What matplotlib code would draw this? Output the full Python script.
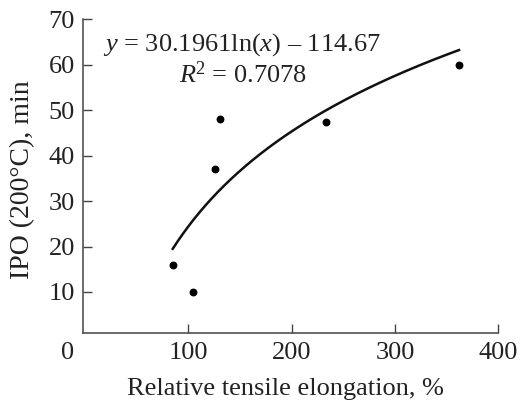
import numpy as np
import matplotlib
matplotlib.use("Agg")
import matplotlib.pyplot as plt
import matplotlib.transforms as mtransforms

plt.rcParams['font.family'] = ['Liberation Serif', 'DejaVu Serif']
plt.rcParams['mathtext.fontset'] = 'custom'
plt.rcParams['mathtext.rm'] = 'Liberation Serif'
plt.rcParams['mathtext.it'] = 'Liberation Serif:italic'

# Data
elongation = [85, 105, 126, 131, 233, 362]
ipo = [16, 10, 37, 48, 47.5, 60]
fit_a = 30.1961
fit_b = -114.67
r2 = 0.7078
xticks = [100, 200, 300, 400]
yticks = [10, 20, 30, 40, 50, 60, 70]

FS = 19
TC = '#222222'
W, H = 521, 405
fig = plt.figure(figsize=(W / 100, H / 100), dpi=100)
ax = fig.add_axes([83.3 / W, 1 - 333.3 / H, (498.3 - 83.3) / W, (333.3 - 19.3) / H])

ax.scatter(elongation, ipo, s=32, color='black', zorder=3, linewidths=0)
xf = np.linspace(min(elongation), max(elongation), 300)
ax.plot(xf, fit_a * np.log(xf) + fit_b, color='#111111', lw=1.8)

ax.set_xlim(-1.5, 400)
ax.set_ylim(0.9, 70)
ax.set_xticks(xticks)
ax.set_yticks(yticks)
spine_c = '#444444'
for s in ['top', 'right']:
    ax.spines[s].set_visible(False)
for s in ['left', 'bottom']:
    ax.spines[s].set_color(spine_c)
    ax.spines[s].set_linewidth(1.1)
ax.tick_params(direction='in', length=6.5, width=1.0, color=spine_c,
               labelsize=FS, pad=6, labelcolor=TC)

# origin "0" label
trans = mtransforms.blended_transform_factory(ax.transData, ax.transAxes)
ax.text(-17, 0, '0', ha='center', va='top', fontsize=FS, color=TC,
        transform=trans + mtransforms.ScaledTranslation(0, -6 / 72, fig.dpi_scale_trans))

fig.text(242 / W, 1 - 45 / H, r'$y$ = 30.1961ln($x$) – 114.67',
         ha='center', va='center', fontsize=FS, color=TC)
fig.text(243 / W, 1 - 75 / H, r'$R$$^2$ = 0.7078',
         ha='center', va='center', fontsize=FS, color=TC)

fig.text(23 / W, 1 - 180 / H, 'IPO (200°C), min', rotation=90, ha='center', va='center',
         fontsize=20, color=TC)
fig.text(285 / W, 1 - 389 / H, 'Relative tensile elongation, %', ha='center', va='center',
         fontsize=FS, color=TC)

fig.savefig('out.png', dpi=100)
